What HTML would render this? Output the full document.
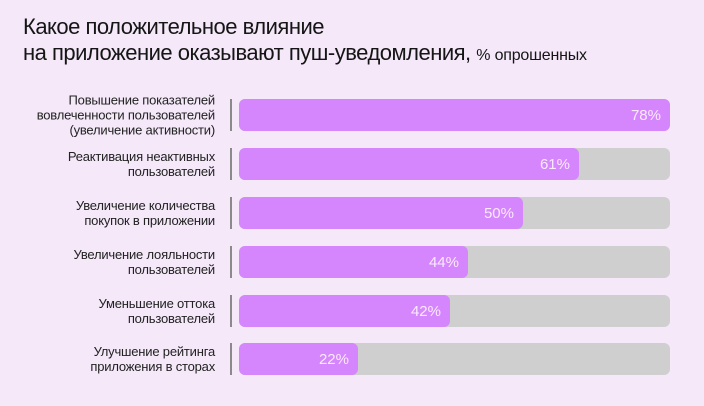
<!DOCTYPE html>
<html><head><meta charset="utf-8"><style>
body{margin:0;width:704px;height:406px;background:#f4e8f9;font-family:"Liberation Sans",sans-serif;position:relative;overflow:hidden}
.t{position:absolute;left:23px;top:14px;font-size:22px;line-height:26px;color:#151515;letter-spacing:-0.5px}
.t small{font-size:16px;letter-spacing:-0.2px}
.row{position:absolute;left:0;width:704px;height:32px}
.lab{position:absolute;right:489px;top:50%;transform:translateY(-50%);text-align:right;font-size:13px;line-height:15px;color:#222;letter-spacing:-0.2px;white-space:nowrap}
.sep{position:absolute;left:230px;top:0;width:2px;height:32px;background:#8a8a8a}
.bg{position:absolute;left:239px;top:0;width:431px;height:32px;background:#cfcfcf;border-radius:6px}
.f{position:absolute;left:239px;top:0;height:32px;background:#d586fc;border-radius:6px}
.f span{position:absolute;right:9px;top:8px;font-size:15px;color:#fbeaff}
</style></head><body>
<div class="t">Какое положительное влияние<br>на приложение оказывают пуш-уведомления, <small>% опрошенных</small></div>
<div class="row" style="top:99px"><div class="lab">Повышение показателей<br>вовлеченности пользователей<br>(увеличение активности)</div><div class="sep"></div><div class="bg"></div><div class="f" style="width:431px"><span>78%</span></div></div>
<div class="row" style="top:148px"><div class="lab">Реактивация неактивных<br>пользователей</div><div class="sep"></div><div class="bg"></div><div class="f" style="width:340px"><span>61%</span></div></div>
<div class="row" style="top:197px"><div class="lab">Увеличение количества<br>покупок в приложении</div><div class="sep"></div><div class="bg"></div><div class="f" style="width:284px"><span>50%</span></div></div>
<div class="row" style="top:246px"><div class="lab">Увеличение лояльности<br>пользователей</div><div class="sep"></div><div class="bg"></div><div class="f" style="width:229px"><span>44%</span></div></div>
<div class="row" style="top:295px"><div class="lab">Уменьшение оттока<br>пользователей</div><div class="sep"></div><div class="bg"></div><div class="f" style="width:211px"><span>42%</span></div></div>
<div class="row" style="top:343px"><div class="lab">Улучшение рейтинга<br>приложения в сторах</div><div class="sep"></div><div class="bg"></div><div class="f" style="width:119px"><span>22%</span></div></div>
</body></html>
